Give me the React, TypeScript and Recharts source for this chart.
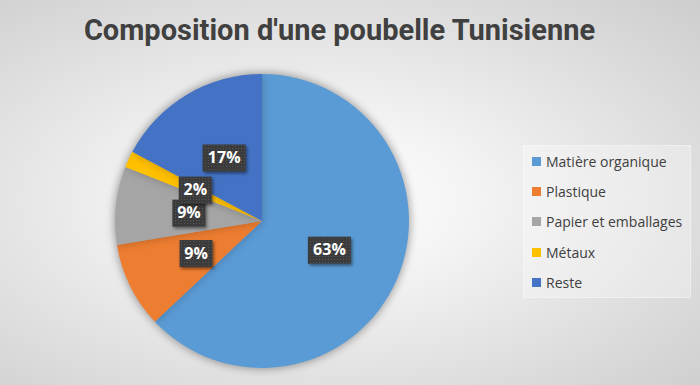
import { PieChart, Pie, Cell, Legend } from 'recharts'

const categories = ['Matière organique', 'Plastique', 'Papier et emballages', 'Métaux', 'Reste']
const shares = [63, 9.4, 8.6, 1.8, 17.2]
const colors = ['#5B9BD5', '#ED7D31', '#A5A5A5', '#FFC000', '#4472C4']

const data = categories.map((name, i) => ({ name, value: shares[i] }))

if (typeof document !== 'undefined') document.body.style.margin = '0'

const RAD = Math.PI / 180

function renderLabel(props: any) {
  const { cx, cy, midAngle, outerRadius, percent } = props
  const r = outerRadius * 0.5
  const x = cx + r * Math.cos(-midAngle * RAD)
  const y = cy + r * Math.sin(-midAngle * RAD)
  const text = `${Math.round(percent * 100)}%`
  const w = text.length > 2 ? 43 : 33
  const h = 27
  return (
    <g>
      <rect x={x - w / 2} y={y - h / 2} width={w} height={h} fill="#3b3b3b" filter="url(#lblShadow)" />
      <rect x={x - w / 2} y={y - h / 2} width={w} height={h} fill="url(#lblDots)" />
      <text
        x={x}
        y={y + 1}
        textAnchor="middle"
        dominantBaseline="middle"
        fill="#ffffff"
        fontFamily="'Open Sans', sans-serif"
        fontWeight={700}
        fontSize={16}
      >
        {text}
      </text>
    </g>
  )
}

function LegendBox() {
  return (
    <div
      style={{
        width: 168,
        height: 153,
        boxSizing: 'border-box',
        background: 'rgba(255,255,255,0.3)',
        border: '1px solid rgba(255,255,255,0.35)',
        paddingTop: 0,
      }}
    >
      {categories.map((c, i) => (
        <div key={c} style={{ display: 'flex', alignItems: 'center', height: 30.3 }}>
          <span style={{ display: 'inline-block', width: 9, height: 9, background: colors[i], marginLeft: 8, marginRight: 5 }} />
          <span style={{ fontFamily: "'Open Sans', sans-serif", fontSize: 14, color: '#404040', whiteSpace: 'nowrap' }}>{c}</span>
        </div>
      ))}
    </div>
  )
}

export default function App() {
  return (
    <div
      style={{
        position: 'relative',
        width: 700,
        height: 385,
        background: 'radial-gradient(ellipse at 45% 52%, #ffffff 0%, #f4f4f4 28%, #cdcdcd 100%)',
        overflow: 'hidden',
      }}
    >
      <style>{`.pie-main { filter: drop-shadow(0 0 5px rgba(0,0,0,0.22)); }`}</style>
      <svg width={0} height={0} style={{ position: 'absolute' }}>
        <defs>
          <pattern id="lblDots" width="3" height="3" patternUnits="userSpaceOnUse">
            <rect x="1" y="1" width="1" height="1" fill="#555555" />
          </pattern>
          <filter id="lblShadow" x="-30%" y="-30%" width="160%" height="170%">
            <feDropShadow dx="1.5" dy="2" stdDeviation="1.5" floodColor="#000" floodOpacity="0.45" />
          </filter>
        </defs>
      </svg>
      <div
        style={{
          position: 'absolute',
          left: 0,
          top: 10,
          width: 679,
          textAlign: 'center',
          fontFamily: 'Roboto, sans-serif',
          fontWeight: 700,
          fontSize: 29,
          lineHeight: '40px',
          color: '#404040',
          whiteSpace: 'nowrap',
        }}
      >
        Composition d'une poubelle Tunisienne
      </div>
      <div style={{ position: 'absolute', left: 0, top: 0 }}>
        <PieChart width={700} height={385} margin={{ top: 0, right: 0, bottom: 0, left: 0 }}>
          <Pie
            className="pie-main"
            data={data}
            dataKey="value"
            nameKey="name"
            cx={262}
            cy={221}
            outerRadius={147}
            startAngle={90}
            endAngle={-270}
            stroke="none"
            labelLine={false}
            label={renderLabel}
            isAnimationActive={false}
          >
            {data.map((d, i) => (
              <Cell key={d.name} fill={colors[i]} />
            ))}
          </Pie>
          <Legend
            layout="vertical"
            align="right"
            verticalAlign="middle"
            content={() => <LegendBox />}
            wrapperStyle={{ left: 523, top: 145, width: 168, height: 153, right: 'auto', bottom: 'auto' }}
          />
        </PieChart>
      </div>
    </div>
  )
}
